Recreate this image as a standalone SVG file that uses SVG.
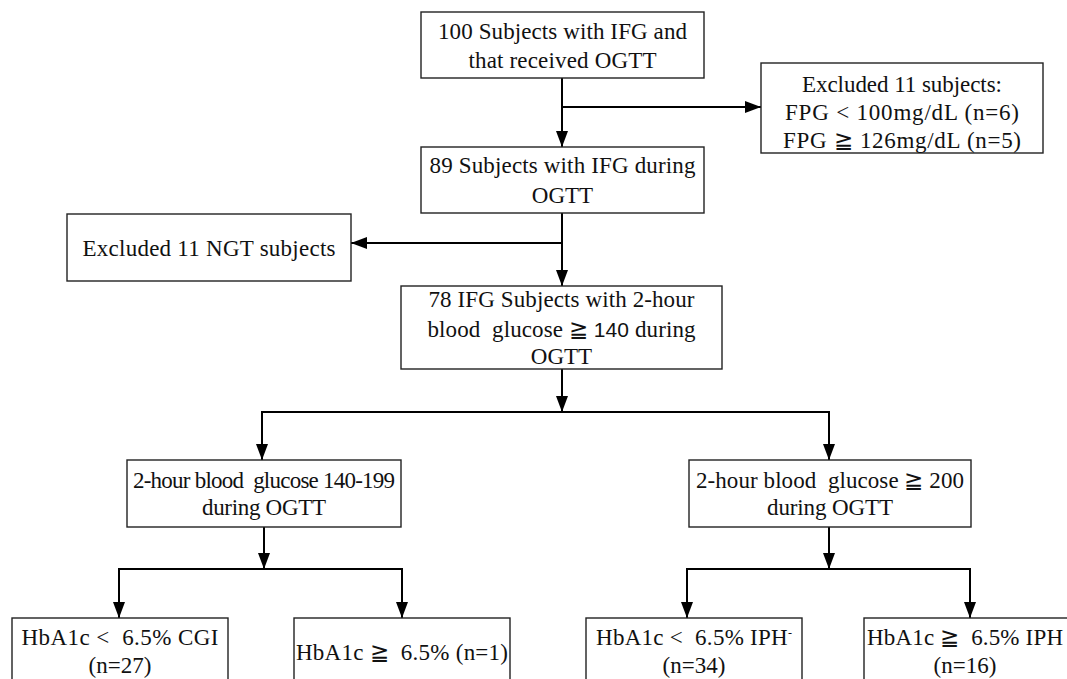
<svg xmlns="http://www.w3.org/2000/svg" width="1067" height="679" viewBox="0 0 1067 679">
<style>
.box{fill:#fff;stroke:#222;stroke-width:1.4}
.t{font-family:"Liberation Serif","DejaVu Serif",serif;font-size:23px;fill:#111;text-anchor:middle;white-space:pre}
.ln{fill:none;stroke:#000;stroke-width:2;marker-end:url(#ah)}
.sans{font-family:"Liberation Sans","DejaVu Sans",sans-serif;font-size:21px}
</style>
<defs>
<marker id="ah" markerUnits="userSpaceOnUse" markerWidth="16" markerHeight="12" refX="16" refY="6" orient="auto">
<path d="M0,0 L16,6 L0,12 z" fill="#000"/>
</marker>
</defs>
<rect width="1067" height="679" fill="#fff"/>
<g id="connectors">
<path class="ln" d="M562,78 V147"/>
<path class="ln" d="M562,107 H761"/>
<path class="ln" d="M562,213 V286"/>
<path class="ln" d="M562,243 H351"/>
<path class="ln" d="M562,369 V412"/>
<path class="ln" d="M562,412 H262 V460"/>
<path class="ln" d="M562,412 H829 V460"/>
<path class="ln" d="M264,527 V569"/>
<path class="ln" d="M264,569 H119 V618"/>
<path class="ln" d="M264,569 H402 V618"/>
<path class="ln" d="M829,527 V569"/>
<path class="ln" d="M829,569 H687 V618"/>
<path class="ln" d="M829,569 H970 V618"/>
</g>
<g id="n1">
<rect class="box" x="421" y="12" width="283" height="66"/>
<text class="t" x="562.5" y="39" textLength="249">100 Subjects with IFG and</text>
<text class="t" x="562.5" y="68" textLength="188">that received OGTT</text>
</g>
<g id="n2">
<rect class="box" x="761" y="63" width="282" height="90"/>
<text class="t" x="902" y="92" textLength="200">Excluded 11 subjects:</text>
<text class="t" x="902" y="120" textLength="234">FPG &lt; 100mg/dL (n=6)</text>
<text class="t" x="902" y="148" textLength="238">FPG ≧ 126mg/dL (n=5)</text>
</g>
<g id="n3">
<rect class="box" x="421" y="147" width="283" height="66"/>
<text class="t" x="562.5" y="173" textLength="266">89 Subjects with IFG during</text>
<text class="t" x="562.5" y="203">OGTT</text>
</g>
<g id="n4">
<rect class="box" x="67" y="214" width="284" height="67"/>
<text class="t" x="209" y="256" textLength="253">Excluded 11 NGT subjects</text>
</g>
<g id="n5">
<rect class="box" x="401" y="286" width="321" height="83"/>
<text class="t" x="561.5" y="307" textLength="266">78 IFG Subjects with 2-hour</text>
<text class="t" x="561.5" y="337" textLength="268" xml:space="preserve">blood  glucose ≧ <tspan class="sans">140</tspan> during</text>
<text class="t" x="561.5" y="364">OGTT</text>
</g>
<g id="n6">
<rect class="box" x="127" y="460" width="274" height="67"/>
<text class="t" x="264" y="488" textLength="262" xml:space="preserve">2-hour blood  glucose 140-199</text>
<text class="t" x="264" y="515" textLength="124">during OGTT</text>
</g>
<g id="n7">
<rect class="box" x="689" y="460" width="282" height="67"/>
<text class="t" x="830" y="488" textLength="268" xml:space="preserve">2-hour blood  glucose ≧ 200</text>
<text class="t" x="830" y="515" textLength="126">during OGTT</text>
</g>
<g id="n8">
<rect class="box" x="12" y="618" width="216" height="80"/>
<text class="t" x="120" y="645" textLength="197" xml:space="preserve">HbA1c &lt;  6.5% CGI</text>
<text class="t" x="120" y="673">(n=27)</text>
</g>
<g id="n9">
<rect class="box" x="294" y="618" width="216" height="80"/>
<text class="t" x="402" y="660" textLength="212" xml:space="preserve">HbA1c ≧  6.5% (n=1)</text>
</g>
<g id="n10">
<rect class="box" x="586" y="618" width="216" height="80"/>
<text class="t" x="694" y="645" textLength="196" xml:space="preserve">HbA1c &lt;  6.5% IPH<tspan font-size="12" dy="-8">-</tspan></text>
<text class="t" x="694" y="673">(n=34)</text>
</g>
<g id="n11">
<rect class="box" x="864" y="618" width="216" height="80"/>
<text class="t" x="965" y="645" textLength="196" xml:space="preserve">HbA1c ≧  6.5% IPH</text>
<text class="t" x="965" y="673">(n=16)</text>
</g>
</svg>
